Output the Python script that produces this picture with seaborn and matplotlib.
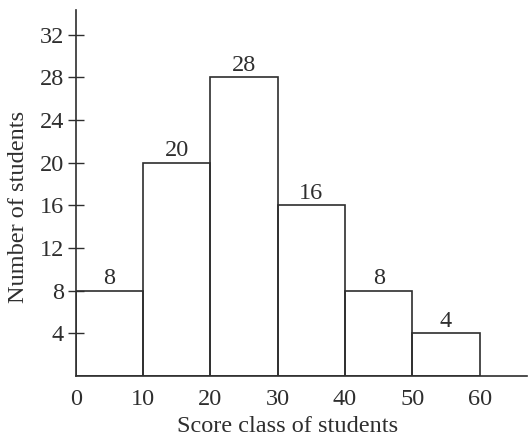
import numpy as np
import pandas as pd
import matplotlib
matplotlib.use('Agg')
import matplotlib.pyplot as plt
import seaborn as sns

# class edges and frequencies
bin_edges = [0, 10, 20, 30, 40, 50, 60]
class_mid = [5, 15, 25, 35, 45, 55]
students = [8, 20, 28, 16, 8, 4]
y_ticks = [4, 8, 12, 16, 20, 24, 28, 32]
x_ticks = [0, 10, 20, 30, 40, 50, 60]

ink = '#2e2e2e'
fsize = 17.5

sns.set_style('white')
plt.rcParams['font.family'] = ['Liberation Serif', 'DejaVu Serif']

df = pd.DataFrame({'score': class_mid, 'count': students})

fig = plt.figure(figsize=(5.3, 4.42), dpi=100)
ax = fig.add_axes([0.143, 0.149, 0.851, 0.828])

sns.histplot(data=df, x='score', weights='count', bins=bin_edges,
             fill=False, color=ink, linewidth=1.2, ax=ax)

ax.bar_label(ax.containers[0], labels=[str(v) for v in students],
             padding=1, fontsize=fsize, color=ink)

ax.set_xlim(0, 67)
ax.set_ylim(0, 34.3)
ax.set_xticks(x_ticks)
ax.set_yticks(y_ticks)
ax.tick_params(axis='x', length=0, pad=9, labelsize=fsize, colors=ink)
ax.tick_params(axis='y', length=11, direction='inout', width=1, pad=3,
               labelsize=fsize, colors=ink, left=True)

for side in ['top', 'right']:
    ax.spines[side].set_visible(False)
for side in ['left', 'bottom']:
    ax.spines[side].set_color(ink)
    ax.spines[side].set_linewidth(1.2)

ax.set_xlabel('Score class of students', fontsize=fsize, color=ink)
ax.set_ylabel('Number of students', fontsize=fsize, color=ink)
ax.xaxis.set_label_coords(0.47, -0.11)
ax.yaxis.set_label_coords(-0.104, 0.462)

fig.savefig('out.png', dpi=100)
